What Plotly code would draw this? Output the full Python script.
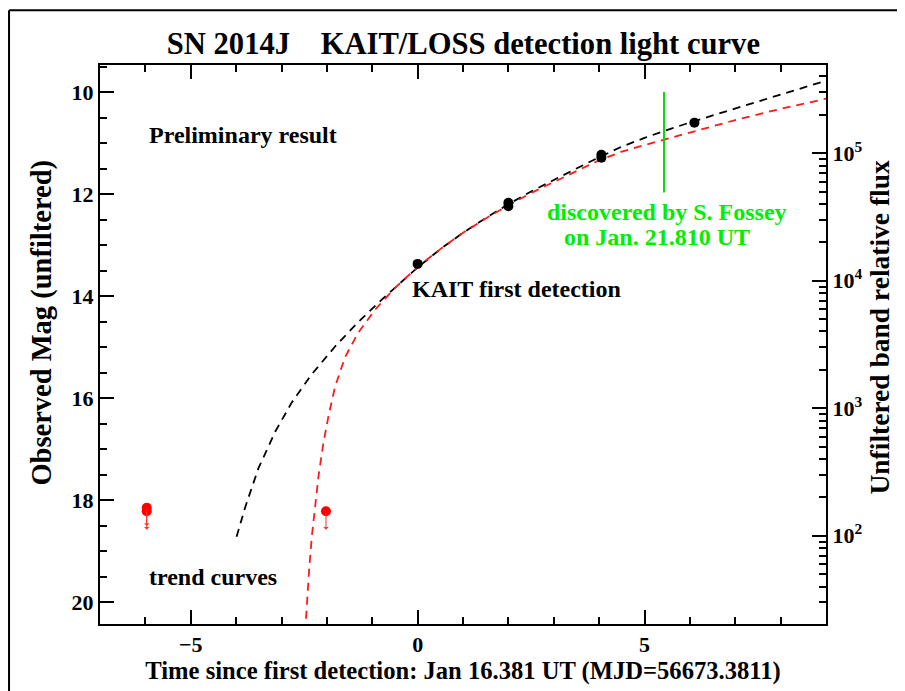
import numpy as np
import plotly.graph_objects as go

# ---------------- data ----------------
det_t = [0.0, 2.0, 2.0, 4.05, 4.05, 6.1]
det_m = [13.37, 12.17, 12.24, 11.23, 11.29, 10.60]

lim_t = [-5.97, -5.97, -2.02]
lim_m = [18.15, 18.22, 18.22]

black_t = [-3.99, -3.80, -3.51, -3.14, -2.77, -2.33, -1.82, -1.31, -0.79, -0.28, 0.0, 0.5, 1.0, 1.5, 2.0, 2.5,
           3.0, 3.5, 4.02, 4.5, 5.0, 5.41, 6.06, 7.0, 8.0, 9.1]
black_m = [18.72, 18.14, 17.38, 16.66, 16.08, 15.53, 14.99, 14.51, 14.07, 13.66, 13.44, 13.08, 12.76, 12.47, 12.20, 11.95,
           11.72, 11.50, 11.27, 11.07, 10.90, 10.77, 10.58, 10.32, 10.04, 9.75]

red_t = [-2.48, -2.44, -2.39, -2.33, -2.26, -2.18, -2.08, -1.96, -1.82, -1.60, -1.31, -0.94, -0.50, -0.13, 0.0, 0.5,
         1.0, 1.5, 2.0, 2.5, 3.0, 3.5, 4.02, 4.5, 5.0, 5.41, 6.04, 7.0, 8.0, 9.1]
red_m = [20.60, 20.00, 19.35, 18.70, 18.10, 17.50, 16.90, 16.33, 15.78, 15.20, 14.72, 14.27, 13.84, 13.53, 13.43, 13.08,
         12.76, 12.48, 12.22, 11.98, 11.76, 11.55, 11.33, 11.17, 11.04, 10.94, 10.78, 10.55, 10.33, 10.11]

disc_t = 5.429
disc_m = [10.0, 11.97]

xrange_ = [-7, 9]
yrange_ = [20.43, 9.47]
zp = 23.7
flux_ticks = [1e2, 1e3, 1e4, 1e5]
flux_ticktext = ["10<sup>2</sup>", "10<sup>3</sup>", "10<sup>4</sup>", "10<sup>5</sup>"]

FONT = "Liberation Serif"

fig = go.Figure()

dash = "8px,6px"
fig.add_trace(go.Scatter(x=black_t, y=black_m, mode="lines", line=dict(color="black", width=1.8, dash=dash), showlegend=False))
fig.add_trace(go.Scatter(x=red_t, y=red_m, mode="lines", line=dict(color="#ff1a1a", width=1.8, dash=dash), showlegend=False))
fig.add_trace(go.Scatter(x=[disc_t, disc_t], y=disc_m, mode="lines", line=dict(color="#00e000", width=2), showlegend=False))
fig.add_trace(go.Scatter(x=det_t, y=det_m, mode="markers", marker=dict(color="black", size=10), showlegend=False))
fig.add_trace(go.Scatter(x=lim_t, y=lim_m, mode="markers", marker=dict(color="#ff0000", size=10), showlegend=False))

# dummy trace for right axis
flux_lo = 10 ** (0.4 * (zp - yrange_[0]))
flux_hi = 10 ** (0.4 * (zp - yrange_[1]))
fig.add_trace(go.Scatter(x=[xrange_[0]], y=[1e3], yaxis="y2", mode="markers", marker=dict(opacity=0),
                         showlegend=False, hoverinfo="skip"))

for t, m in zip(lim_t, lim_m):
    fig.add_annotation(x=t, y=m + 0.36, ax=0, ay=-18, showarrow=True, arrowhead=1, arrowsize=0.9,
                       arrowwidth=1, arrowcolor="#ff3030", text="")

tickfont = dict(family=FONT, size=22, color="black", weight="bold")

minor_flux = [k * 10 ** d for d in range(1, 6) for k in range(2, 10)]

fig.update_layout(
    width=897, height=683,
    margin=dict(l=92, r=79, t=57, b=65),
    paper_bgcolor="white", plot_bgcolor="white",
    title=dict(text="SN 2014J\u00a0\u00a0\u00a0\u00a0KAIT/LOSS detection light curve", x=0.5077, xanchor="center",
               y=0.9488, yanchor="middle",
               font=dict(family=FONT, size=30.6, color="black", weight="bold")),
    xaxis=dict(range=xrange_, showline=True, linecolor="black", linewidth=2, mirror="ticks",
               ticks="inside", ticklen=14, tickwidth=1.5, tickcolor="black", dtick=5, tick0=0,
               minor=dict(ticks="inside", ticklen=7, dtick=1, tickcolor="black", tickwidth=1.5),
               showgrid=False, zeroline=False, tickfont=tickfont,
               title=dict(text="Time since first detection: Jan 16.381 UT (MJD=56673.3811)",
                          font=dict(family=FONT, size=24.6, color="black", weight="bold"), standoff=4)),
    yaxis=dict(range=yrange_, showline=True, linecolor="black", linewidth=2, mirror=False,
               ticks="inside", ticklen=14, tickwidth=1.5, tickcolor="black", dtick=2, tick0=0,
               minor=dict(ticks="inside", ticklen=7, dtick=0.5, tickcolor="black", tickwidth=1.5),
               showgrid=False, zeroline=False, tickfont=tickfont),
    yaxis2=dict(type="log", overlaying="y", side="right", range=[np.log10(flux_lo), np.log10(flux_hi)],
                showline=True, linecolor="black", linewidth=2, ticks="inside", ticklen=14, tickwidth=1.5, tickcolor="black",
                tickvals=flux_ticks, ticktext=flux_ticktext,
                minor=dict(ticks="inside", ticklen=7, tickvals=minor_flux, tickcolor="black", tickwidth=1.5),
                showgrid=False, zeroline=False, tickfont=tickfont),
)

# vertical axis titles
fig.add_annotation(xref="paper", yref="paper", x=-0.0799, y=0.5392, xanchor="center", yanchor="middle",
                   text="Observed Mag (unfiltered)", textangle=-90,
                   showarrow=False, font=dict(family=FONT, size=28.5, color="black", weight="bold"))
fig.add_annotation(xref="paper", yref="paper", x=1.0744, y=0.5303, xanchor="center", yanchor="middle",
                   text="Unfiltered band relative flux", textangle=-90,
                   showarrow=False, font=dict(family=FONT, size=27.5, color="black", weight="bold"))

annfont = dict(family=FONT, size=24, color="black", weight="bold")
fig.add_annotation(x=-5.96, y=10.84, text="Preliminary result", showarrow=False, xanchor="left", font=annfont)
fig.add_annotation(x=-0.16, y=13.87, text="KAIT first detection", showarrow=False, xanchor="left", font=annfont)
fig.add_annotation(x=-5.96, y=19.51, text="trend curves", showarrow=False, xanchor="left", font=annfont)
gfont = dict(family=FONT, size=24, color="#00ee00", weight="bold")
fig.add_annotation(x=5.50, y=12.36, text="discovered by S. Fossey", showarrow=False, font=gfont)
fig.add_annotation(x=5.28, y=12.85, text="on Jan. 21.810 UT", showarrow=False, font=gfont)

# outer frame (left, top, right edges)
frame = dict(color="black", width=2)
fig.add_shape(type="line", xref="paper", yref="paper", x0=-0.1253, x1=-0.1253, y0=-0.2, y1=1.098, line=frame)
fig.add_shape(type="line", xref="paper", yref="paper", x0=-0.1253, x1=1.1006, y0=1.098, y1=1.098, line=frame)
fig.add_shape(type="line", xref="paper", yref="paper", x0=1.1006, x1=1.1006, y0=-0.2, y1=1.098, line=frame)

fig.write_html("out.html")
